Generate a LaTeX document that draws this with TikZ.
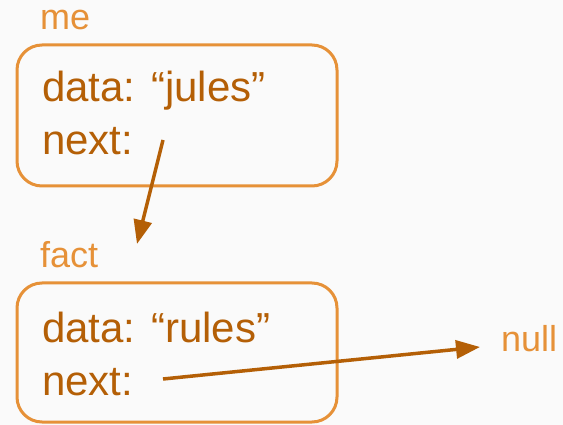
\documentclass[tikz,border=0pt]{standalone}
\usepackage{fontspec}
\setmainfont{Liberation Sans}
\usetikzlibrary{arrows.meta}
\definecolor{boxorange}{HTML}{E69138}
\definecolor{textbrown}{HTML}{B45F06}
\definecolor{bgcol}{HTML}{FAFAFA}
\tikzset{
  listbox/.style={draw=boxorange, line width=3pt, rounded corners=25pt},
  bodytext/.style={text=textbrown, inner sep=0pt, anchor=base west, font=\fontsize{42}{50}\selectfont},
  varlabel/.style={text=boxorange, inner sep=0pt, anchor=base west, font=\fontsize{36}{42}\selectfont},
  pointer/.style={draw=textbrown, line width=3.5pt, -{Triangle[length=24pt,width=18pt]}}
}
\begin{document}
\begin{tikzpicture}[x=1pt,y=-1pt]
  \fill[bgcol] (0,0) rectangle (563,425);
  \useasboundingbox (0,0) rectangle (563,425);
  % box 1
  \draw[listbox] (17,45) rectangle (337,186);
  \node[varlabel] (me) at (40,30) {me};
  \node[bodytext] (d1) at (42,102) {data: “jules”};
  \node[bodytext] (n1) at (42,155) {next:};
  % box 2
  \draw[listbox] (17,283) rectangle (337,422);
  \node[varlabel] (fact) at (40,268) {fact};
  \node[bodytext] (d2) at (42,342) {data: “rules”};
  \node[bodytext] (n2) at (42,395) {next:};
  % null
  \node[varlabel] (null) at (501,351) {null};
  % pointers
  \coordinate (p1s) at (163,140);
  \coordinate (p1e) at (137,244);
  \coordinate (p2s) at (163,379);
  \coordinate (p2e) at (480,347);
  \draw[pointer] (p1s) -- (p1e);
  \draw[pointer] (p2s) -- (p2e);
\end{tikzpicture}
\end{document}
